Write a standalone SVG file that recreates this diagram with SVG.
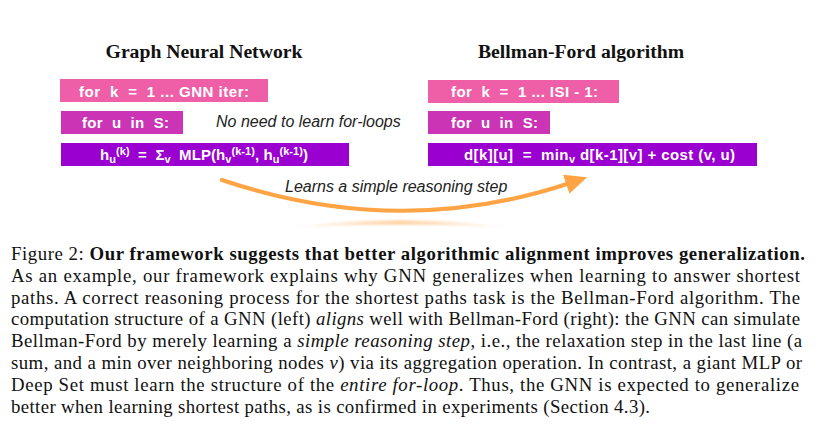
<svg xmlns="http://www.w3.org/2000/svg" width="833" height="437" viewBox="0 0 833 437">
<style>
.title{font-family:"Liberation Serif",serif;font-weight:bold;font-size:19.7px;fill:#111;text-anchor:middle}
.code{font-family:"Liberation Sans",Arial,sans-serif;font-weight:bold;font-size:15px;fill:#fff;white-space:pre}
.note{font-family:"Liberation Sans",Arial,sans-serif;font-style:italic;font-size:16px;fill:#222;white-space:pre}
.cap{font-family:"Liberation Serif",serif;font-size:18.8px;fill:#111}
.b{font-weight:bold}
.i{font-style:italic}
.sm{font-size:11px}
.c1{fill:#EF5FA7}
.c2{fill:#CB34B4}
.c3{fill:#9A00CF}
</style>
<defs>
<marker id="ah" markerUnits="userSpaceOnUse" markerWidth="24" markerHeight="24" refX="4" refY="10" orient="auto" viewBox="0 0 24 20">
<path d="M0,0 L22,10 L0,20 Z" fill="#FFA445"/>
</marker>
<linearGradient id="sh" x1="0" y1="0" x2="1" y2="0">
<stop offset="0" stop-color="#FFC890" stop-opacity="0"/>
<stop offset="0.5" stop-color="#FFC890" stop-opacity="0.8"/>
<stop offset="1" stop-color="#FFC890" stop-opacity="0"/>
</linearGradient>
<filter id="blur" x="-10%" y="-100%" width="120%" height="300%"><feGaussianBlur stdDeviation="1.2"/></filter>
</defs>
<rect width="833" height="437" fill="#fff"/>

<text class="title" x="204" y="58">Graph Neural Network</text>
<text class="title" x="581" y="58">Bellman-Ford algorithm</text>

<g id="gnn-loop-k">
<rect class="c1" x="60" y="79" width="208" height="23"/>
<text class="code" x="79" y="96.5" textLength="170" lengthAdjust="spacing">for  k  =  1 ... GNN iter:</text>
</g>
<g id="gnn-loop-u">
<rect class="c2" x="61" y="111" width="122" height="23"/>
<text class="code" x="82" y="128" textLength="87" lengthAdjust="spacing">for  u  in  S:</text>
</g>
<g id="gnn-update">
<rect class="c3" x="61" y="143" width="288" height="23"/>
<text class="code" x="100" y="159.5" textLength="208" lengthAdjust="spacing">h<tspan class="sm" baseline-shift="-3">u</tspan><tspan class="sm" baseline-shift="5">(k)</tspan>  =  Σ<tspan class="sm" baseline-shift="-3">v</tspan>  MLP(h<tspan class="sm" baseline-shift="-3">v</tspan><tspan class="sm" baseline-shift="5">(k-1)</tspan>, h<tspan class="sm" baseline-shift="-3">u</tspan><tspan class="sm" baseline-shift="5">(k-1)</tspan>)</text>
</g>
<g id="bf-loop-k">
<rect class="c1" x="428" y="80" width="191" height="23"/>
<text class="code" x="451" y="97" textLength="147" lengthAdjust="spacing">for  k  =  1 ... ISI - 1:</text>
</g>
<g id="bf-loop-u">
<rect class="c2" x="428" y="111" width="122" height="23"/>
<text class="code" x="451" y="128" textLength="87" lengthAdjust="spacing">for  u  in  S:</text>
</g>
<g id="bf-update">
<rect class="c3" x="428" y="143" width="329" height="23"/>
<text class="code" x="464" y="159.5" textLength="271" lengthAdjust="spacing">d[k][u]  =  min<tspan class="sm" baseline-shift="-3">v</tspan> d[k-1][v] + cost (v, u)</text>
</g>

<text class="note" x="216" y="127">No need to learn for-loops</text>

<g id="connectors">
<path d="M290,227.5 Q400,213 510,227.5 Q400,222 290,227.5 Z" fill="url(#sh)" filter="url(#blur)"/>
<path d="M222,180 Q400,240 570,183" fill="none" stroke="#FFA445" stroke-width="4.2" stroke-linecap="round" marker-end="url(#ah)"/>
<text class="note" x="285" y="192">Learns a simple reasoning step</text>
</g>

<g id="caption">
<text class="cap" x="11" y="260" textLength="794" lengthAdjust="spacing">Figure 2: <tspan class="b">Our framework suggests that better algorithmic alignment improves generalization.</tspan></text>
<text class="cap" x="11" y="281.8" textLength="789" lengthAdjust="spacing">As an example, our framework explains why GNN generalizes when learning to answer shortest</text>
<text class="cap" x="11" y="303.6" textLength="789" lengthAdjust="spacing">paths. A correct reasoning process for the shortest paths task is the Bellman-Ford algorithm. The</text>
<text class="cap" x="11" y="325.4" textLength="789" lengthAdjust="spacing">computation structure of a GNN (left) <tspan class="i">aligns</tspan> well with Bellman-Ford (right): the GNN can simulate</text>
<text class="cap" x="11" y="347.2" textLength="791" lengthAdjust="spacing">Bellman-Ford by merely learning a <tspan class="i">simple reasoning step</tspan>, i.e., the relaxation step in the last line (a</text>
<text class="cap" x="11" y="369" textLength="791" lengthAdjust="spacing">sum, and a min over neighboring nodes <tspan class="i">v</tspan>) via its aggregation operation. In contrast, a giant MLP or</text>
<text class="cap" x="11" y="390.8" textLength="788" lengthAdjust="spacing">Deep Set must learn the structure of the <tspan class="i">entire for-loop</tspan>. Thus, the GNN is expected to generalize</text>
<text class="cap" x="11" y="412.6" textLength="639" lengthAdjust="spacing">better when learning shortest paths, as is confirmed in experiments (Section 4.3).</text>
</g>
</svg>
